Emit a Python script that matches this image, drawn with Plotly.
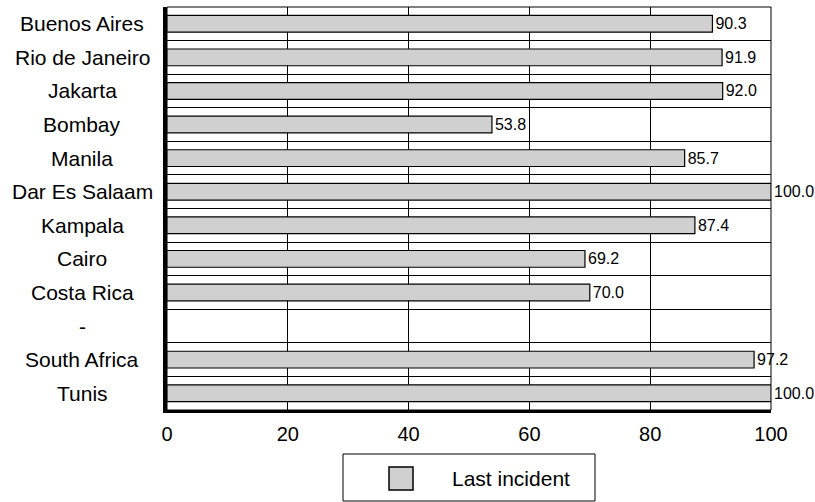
import plotly.graph_objects as go

# City / country categories, top to bottom
categories = ["Buenos Aires", "Rio de Janeiro", "Jakarta", "Bombay", "Manila",
              "Dar Es Salaam", "Kampala", "Cairo", "Costa Rica", "-",
              "South Africa", "Tunis"]
# Share reporting the last incident (%)
last_incident = [90.3, 91.9, 92.0, 53.8, 85.7, 100.0, 87.4, 69.2, 70.0, None,
                 97.2, 100.0]
x_ticks = [0, 20, 40, 60, 80, 100]
series_name = "Last incident"

FONT = "Arial, Liberation Sans, sans-serif"
BAR_FILL = "#d0d0d0"

labels = ["" if v is None else f"{v:.1f}" for v in last_incident]

fig = go.Figure()
fig.add_trace(go.Bar(
    y=categories, x=last_incident, orientation="h",
    marker=dict(color=BAR_FILL, line=dict(color="black", width=1.2)),
    width=0.5,
    text=labels, textposition="outside", constraintext="none",
    textfont=dict(family=FONT, size=16, color="black"),
    cliponaxis=False, showlegend=False, name=series_name,
))

# Category labels, centred in the left margin
for cat in categories:
    fig.add_annotation(x=-0.1407, xref="paper", y=cat, yref="y",
                       text=cat, showarrow=False, xanchor="center",
                       font=dict(family=FONT, size=21, color="black"))

# Thin frame round the plot area
fig.add_shape(type="rect", xref="paper", yref="paper", x0=0, x1=1, y0=0, y1=1,
              line=dict(color="black", width=1), layer="below")

# Legend box drawn below the plot
fig.add_shape(type="rect", xref="paper", yref="paper",
              x0=(343 - 167) / 604, x1=(595 - 167) / 604,
              y0=(410 - 454) / 403, y1=(410 - 501) / 403,
              line=dict(color="black", width=1), fillcolor="white")
fig.add_shape(type="rect", xref="paper", yref="paper",
              x0=(389 - 167) / 604, x1=(413 - 167) / 604,
              y0=(410 - 467) / 403, y1=(410 - 490) / 403,
              line=dict(color="black", width=1.5), fillcolor=BAR_FILL)
fig.add_annotation(x=(450 - 167) / 604, xref="paper", y=(410 - 478.5) / 403,
                   yref="paper", text=series_name, showarrow=False,
                   xanchor="left", yanchor="middle",
                   font=dict(family=FONT, size=21, color="black"))

fig.update_layout(
    width=815, height=502,
    margin=dict(l=167, r=44, t=7, b=92),
    paper_bgcolor="white", plot_bgcolor="white",
    bargap=0.5,
    font=dict(family=FONT, color="black"),
    xaxis=dict(
        range=[0, 100], tickvals=x_ticks, ticktext=[str(t) for t in x_ticks],
        showgrid=True, gridcolor="black", gridwidth=1,
        showline=True, linecolor="black", linewidth=3,
        ticks="outside", ticklen=4, tickcolor="rgba(0,0,0,0)",
        tickfont=dict(family=FONT, size=20, color="black"),
        zeroline=False, fixedrange=True,
    ),
    yaxis=dict(
        type="category", categoryorder="array", categoryarray=categories,
        range=[11.5, -0.5], tickson="boundaries",
        showgrid=True, gridcolor="black", gridwidth=1,
        showline=True, linecolor="black", linewidth=4,
        showticklabels=False, ticks="", zeroline=False, fixedrange=True,
    ),
)

fig.write_html("out.html")
